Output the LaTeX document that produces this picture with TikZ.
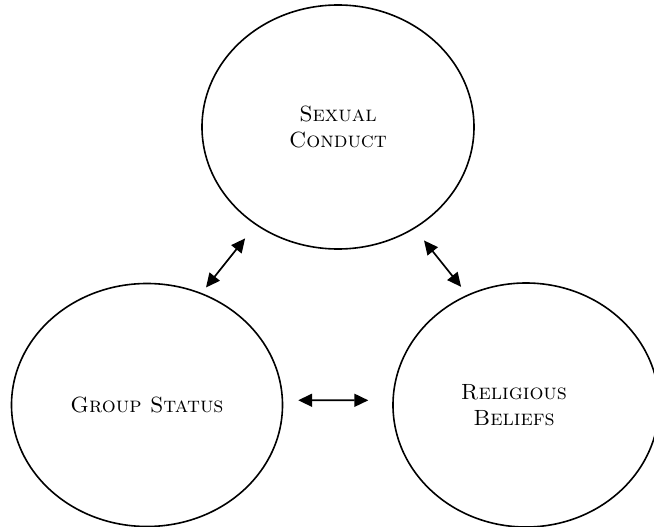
\documentclass[tikz,border=0pt]{standalone}
\usepackage{tikz}
\usetikzlibrary{arrows.meta,positioning,shapes.geometric}
\tikzset{
  topic/.style={draw, ellipse, line width=1.6pt, inner sep=0pt,
    align=center, font=\fontsize{22}{26}\selectfont\scshape},
  linkln/.style={{Triangle[length=14pt,width=13pt]}-{Triangle[length=14pt,width=13pt]},
    line width=1.7pt},
}

\begin{document}
\begin{tikzpicture}[x=1pt,y=-1pt]
    \useasboundingbox (0,0) rectangle (654,527);
    % the three circles
    \node[topic, minimum width=272, minimum height=244] (conduct) at (338,127)
      {Sexual\\Conduct};
    \node[topic, minimum width=271, minimum height=243] (status) at (147,405)
      {Group Status};
    \node[topic, minimum width=266, minimum height=244] (beliefs) at (526,405)
      {\hspace*{-24pt}Religious\\\hspace*{-24pt}Beliefs};
    % two-way links
    \draw[linkln, shorten <=17pt, shorten >=7pt] (conduct.230) -- (status.64);
    \draw[linkln, shorten <=15pt, shorten >=10pt] (conduct.307) -- (beliefs.118);
    \draw[linkln, shorten <=15pt, shorten >=24pt] (status.2) -- (beliefs.178);
  \end{tikzpicture}
\end{document}
